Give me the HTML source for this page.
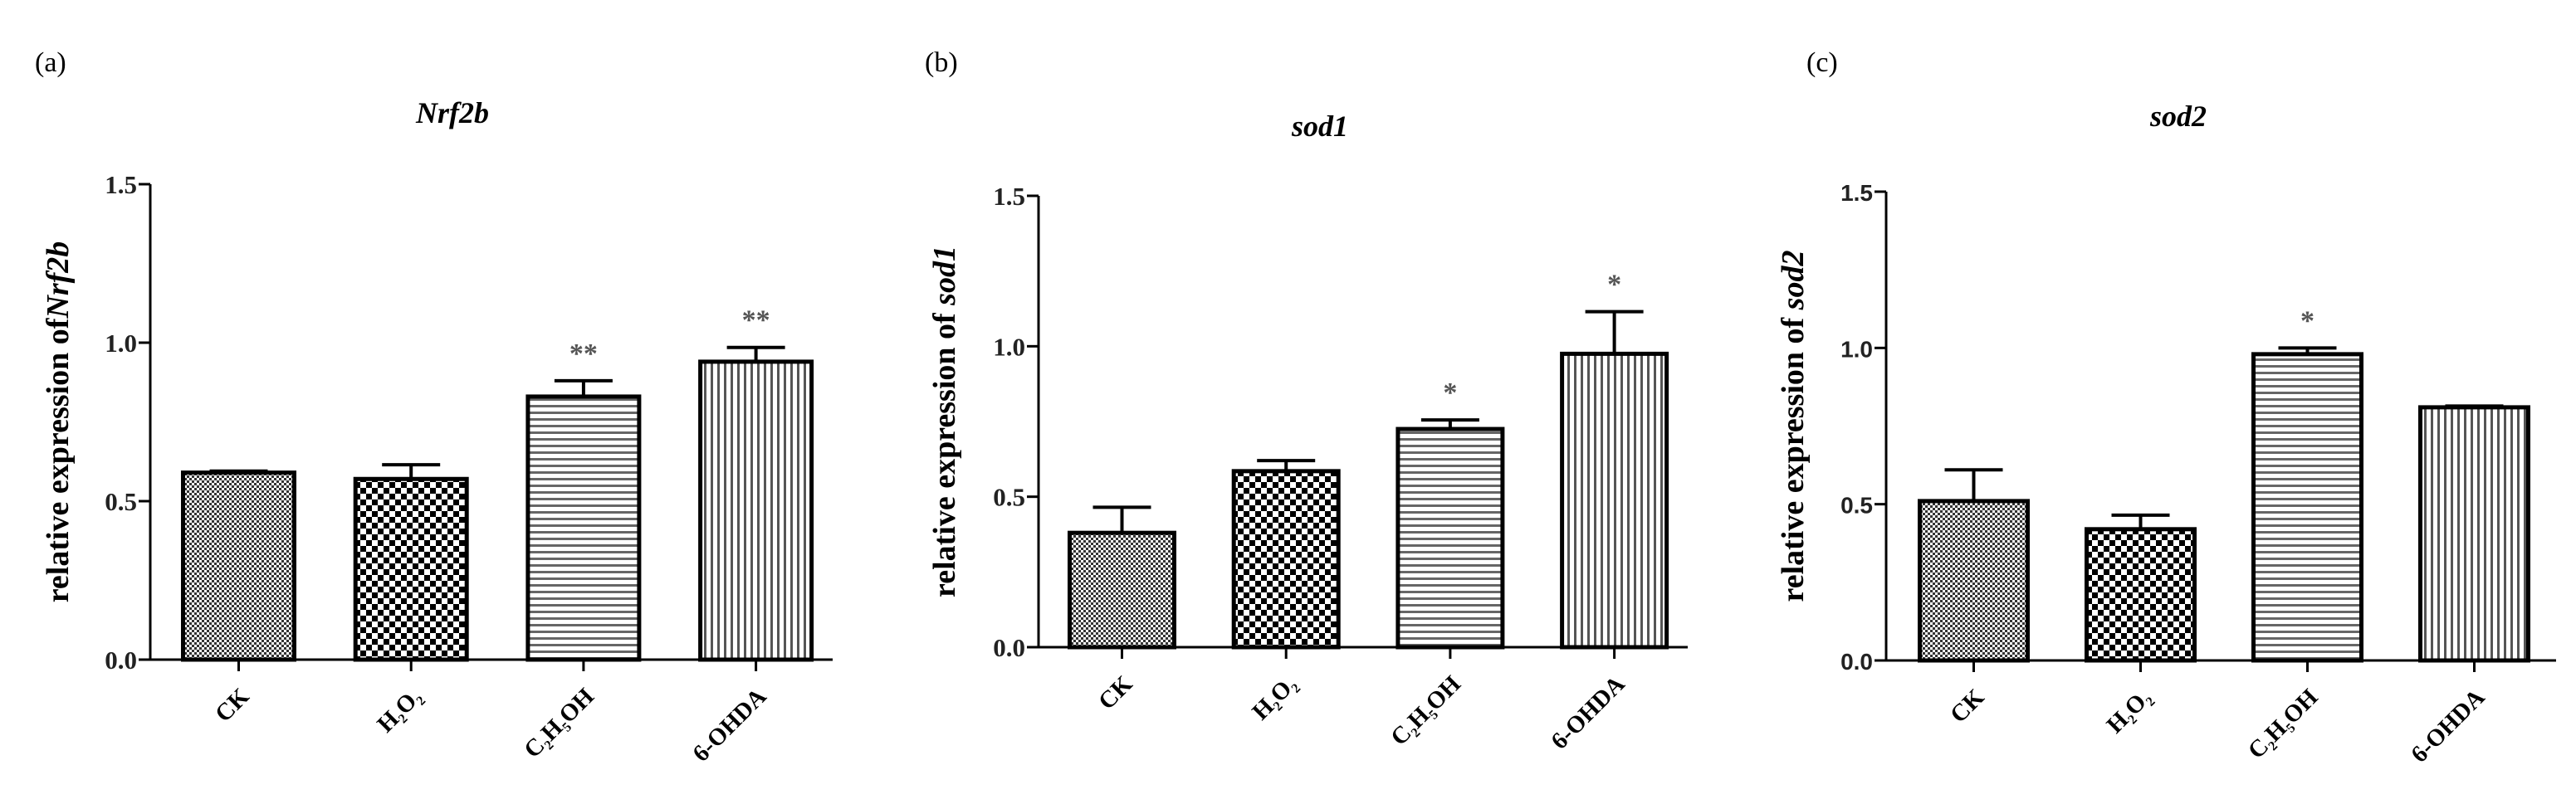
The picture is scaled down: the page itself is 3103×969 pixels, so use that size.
<!DOCTYPE html>
<html><head><meta charset="utf-8"><style>
html,body{margin:0;padding:0;background:#fff;}
svg{display:block;}
</style></head><body>
<svg id="fig" width="3103" height="969" viewBox="0 0 3103 969" xmlns="http://www.w3.org/2000/svg">
<defs>
<pattern id="pCK" width="6" height="6" patternUnits="userSpaceOnUse"><rect width="6" height="6" fill="#fff"/><rect width="3" height="3" fill="#333"/><rect x="3" y="3" width="3" height="3" fill="#333"/></pattern>
<pattern id="pH2" width="14" height="14" patternUnits="userSpaceOnUse"><rect width="14" height="14" fill="#fff"/><rect width="7" height="7" fill="#000"/><rect x="7" y="7" width="7" height="7" fill="#000"/></pattern>
<pattern id="pC2" width="8" height="8" patternUnits="userSpaceOnUse"><rect width="8" height="8" fill="#fff"/><rect y="0" width="8" height="3" fill="#666"/></pattern>
<pattern id="pOH" width="8" height="8" patternUnits="userSpaceOnUse"><rect width="8" height="8" fill="#fff"/><rect x="0" width="3" height="8" fill="#555"/></pattern>
</defs>
</svg>
<script>
const categories = ["CK", "H2O2", "C2H5OH", "6-OHDA"];
const yTicks = [0.0, 0.5, 1.0, 1.5];
const tickLabels = ["0.0", "0.5", "1.0", "1.5"];
const nrf2bValues = [0.59, 0.57, 0.83, 0.94];
const nrf2bErrors = [0.005, 0.045, 0.05, 0.045];
const nrf2bStars = ["", "", "**", "**"];
const sod1Values = [0.38, 0.585, 0.725, 0.975];
const sod1Errors = [0.085, 0.035, 0.03, 0.14];
const sod1Stars = ["", "", "*", "*"];
const sod2Values = [0.51, 0.42, 0.98, 0.81];
const sod2Errors = [0.1, 0.045, 0.02, 0.004];
const sod2Stars = ["", "", "*", ""];

const NS = "http://www.w3.org/2000/svg";
const svg = document.getElementById('fig');
const fills = ["url(#pCK)", "url(#pH2)", "url(#pC2)", "url(#pOH)"];
const labelHTML = [
  "CK",
  'H<tspan font-size="16" dy="6">2</tspan><tspan dy="-6">O</tspan><tspan font-size="16" dy="6">2</tspan>',
  'C<tspan font-size="16" dy="6">2</tspan><tspan dy="-6">H</tspan><tspan font-size="16" dy="6">5</tspan><tspan dy="-6">OH</tspan>',
  "6-OHDA"
];
function el(tag, attrs, parent) {
  const e = document.createElementNS(NS, tag);
  for (const k in attrs) e.setAttribute(k, attrs[k]);
  (parent || svg).appendChild(e);
  return e;
}
function panel(cfg, values, errors, stars) {
  const g = el('g', {});
  
  
  const y = v => cfg.y0 - (v / 1.5) * (cfg.y0 - cfg.y15);
  const tickFont = cfg.sans ? '"Liberation Sans", sans-serif' : '"Liberation Serif", serif';
  const lt = el('text', {x: cfg.letterX, y: 86, 'font-family': '"Liberation Serif", serif', 'font-size': 34, fill: '#000'}, g);
  lt.textContent = cfg.letter;
  
  
  const tt = el('text', {x: cfg.titleX, y: cfg.titleY, 'text-anchor': 'middle', 'font-family': '"Liberation Serif", serif', 'font-size': 36, 'font-weight': 'bold', 'font-style': 'italic', fill: '#000'}, g);
  tt.textContent = cfg.title;
  
  
  const yl = el('text', {x: 0, y: 0, transform: `translate(${cfg.yLabelX},${(cfg.y0 + cfg.y15) / 2}) rotate(-90)`, 'text-anchor': 'middle', 'font-family': '"Liberation Serif", serif', 'font-size': 38, 'font-weight': 'bold', fill: '#000'}, g);
  yl.innerHTML = cfg.yLabel;
  
  
  categories.forEach((c, i) => {
    const x0 = cfg.barX[0] + i * cfg.barStep;
    const top = y(values[i]);
    const cx = x0 + cfg.barW / 2;
    const etop = y(values[i] + errors[i]);
    const ln = el('line', {x1: cx, x2: cx, y1: top, y2: etop, stroke: '#000', 'stroke-width': 4}, g);
    
    
    const cap = el('line', {x1: cx - 35, x2: cx + 35, y1: etop, y2: etop, stroke: '#000', 'stroke-width': 4}, g);
    
    
    const r = el('rect', {x: x0 + 2.5, y: top, width: cfg.barW - 5, height: cfg.y0 - top, fill: fills[i], stroke: '#000', 'stroke-width': 5}, g);
    
    
    if (stars[i]) {
      const s = el('text', {x: cx, y: etop - 22, 'text-anchor': 'middle', 'font-family': '"Liberation Serif", serif', 'font-size': 34, 'font-weight': 'bold', fill: '#555'}, g);
      s.textContent = stars[i];
      
      
    }
    const tk = el('line', {x1: cx, x2: cx, y1: cfg.y0, y2: cfg.y0 + 14, stroke: '#000', 'stroke-width': 3}, g);
    
    
    const xl = el('text', {x: 0, y: 0, transform: `translate(${cx + 14},${cfg.y0 + 46}) rotate(-45)`, 'text-anchor': 'end', 'font-family': '"Liberation Serif", serif', 'font-size': 29, 'font-weight': 'bold', fill: '#000'}, g);
    xl.innerHTML = labelHTML[i];
    
    
  });
  const ya = el('line', {x1: cfg.axisX, x2: cfg.axisX, y1: cfg.y15, y2: cfg.y0, stroke: '#000', 'stroke-width': 3}, g);
  
  
  const xa = el('line', {x1: cfg.axisX - 14, x2: cfg.xEnd, y1: cfg.y0, y2: cfg.y0, stroke: '#000', 'stroke-width': 3}, g);
  
  
  yTicks.forEach((t, i) => {
    const ty = y(t);
    const tk = el('line', {x1: cfg.axisX - 14, x2: cfg.axisX, y1: ty, y2: ty, stroke: '#000', 'stroke-width': 3}, g);
    
    
    const tl = el('text', {x: cfg.axisX - 16, y: ty + 11, 'text-anchor': 'end', 'font-family': tickFont, 'font-size': cfg.sans ? 28 : 31, 'font-weight': 'bold', fill: '#222'}, g);
    tl.textContent = tickLabels[i];
    
    
  });
}
panel({name: 'panel-a-nrf2b', letter: '(a)', letterX: 42, title: 'Nrf2b', titleX: 545, titleY: 148,
  yLabel: 'relative expression of<tspan font-style="italic">Nrf2b</tspan>', yLabelX: 82,
  axisX: 181, y0: 795, y15: 222, barX: [218], barStep: 207.7, barW: 139, xEnd: 1003, sans: false},
  nrf2bValues, nrf2bErrors, nrf2bStars);
panel({name: 'panel-b-sod1', letter: '(b)', letterX: 1114, title: 'sod1', titleX: 1590, titleY: 164,
  yLabel: 'relative expression of <tspan font-style="italic">sod1</tspan>', yLabelX: 1150,
  axisX: 1251, y0: 780, y15: 236, barX: [1286], barStep: 197.7, barW: 131, xEnd: 2033, sans: false},
  sod1Values, sod1Errors, sod1Stars);
panel({name: 'panel-c-sod2', letter: '(c)', letterX: 2176, title: 'sod2', titleX: 2624, titleY: 152,
  yLabel: 'relative expression of <tspan font-style="italic">sod2</tspan>', yLabelX: 2172,
  axisX: 2272, y0: 796, y15: 231, barX: [2310], barStep: 201, barW: 135, xEnd: 3079, sans: true},
  sod2Values, sod2Errors, sod2Stars);
</script>
</body></html>
